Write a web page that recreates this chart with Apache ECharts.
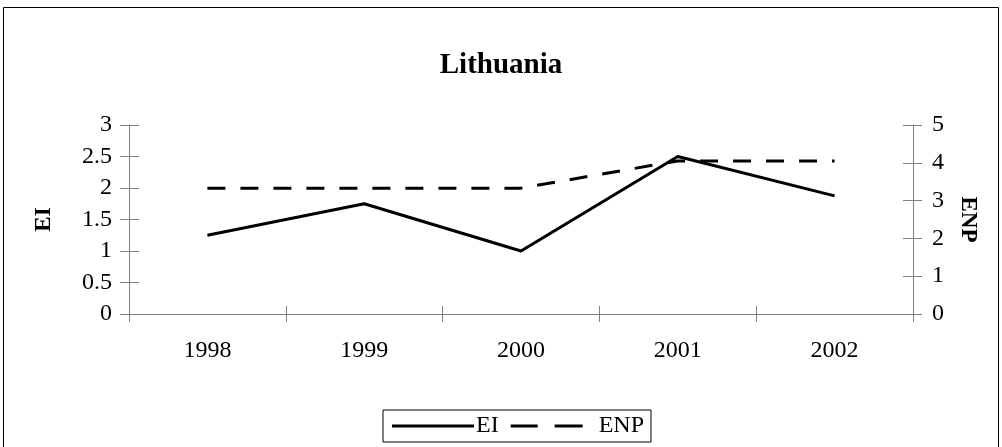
<!DOCTYPE html>
<html>
<head>
<meta charset="utf-8">
<script src="https://cdn.jsdelivr.net/npm/echarts@6/dist/echarts.min.js"></script>
<style>
  html, body { margin: 0; padding: 0; background: #fff; }
  #chart { width: 1002px; height: 447px; }
</style>
</head>
<body>
<div id="chart"></div>
<script>
// data
var years = ['1998', '1999', '2000', '2001', '2002'];
var eiValues = [1.25, 1.75, 1.0, 2.5, 1.875];
var enpValues = [3.33, 3.33, 3.33, 4.05, 4.05];

var chart = echarts.init(document.getElementById('chart'));
var font = 'Liberation Serif';
var axisGray = '#808080';
var labelSize = 24;

// tick marks cross the axis line, so each axis is drawn twice (outside + inside ticks)
function yAxisBase(min, max, step, pos, margin) {
    return {
        type: 'value', position: pos,
        min: min, max: max, interval: step,
        splitLine: { show: false },
        axisLine: { show: true, lineStyle: { color: axisGray } },
        axisTick: { show: true, length: 9, lineStyle: { color: axisGray } },
        axisLabel: { fontFamily: font, fontSize: labelSize, color: '#000', margin: margin }
    };
}
function yAxisInner(min, max, step, pos) {
    return {
        type: 'value', position: pos,
        min: min, max: max, interval: step,
        splitLine: { show: false },
        axisLine: { show: false },
        axisTick: { show: true, inside: true, length: 10, lineStyle: { color: axisGray } },
        axisLabel: { show: false }
    };
}

var ei = yAxisBase(0, 3, 0.5, 'left', 17);
ei.name = 'EI';
ei.nameLocation = 'middle';
ei.nameGap = 73;
ei.nameRotate = 90;
ei.nameTextStyle = { fontFamily: font, fontSize: 23, fontWeight: 'bold', color: '#000' };

var enp = yAxisBase(0, 5, 1, 'right', 19);
enp.name = 'ENP';
enp.nameLocation = 'middle';
enp.nameGap = 43;
enp.nameRotate = -90;
enp.nameTextStyle = { fontFamily: font, fontSize: 23, fontWeight: 'bold', color: '#000' };

var option = {
    animation: false,
    backgroundColor: '#fff',
    textStyle: { fontFamily: font, color: '#000' },
    graphic: [{
        type: 'rect',
        shape: { x: 3.5, y: 7.5, width: 995, height: 445 },
        style: { fill: 'none', stroke: '#000', lineWidth: 1 }
    }],
    title: {
        text: 'Lithuania',
        left: 'center',
        top: 46,
        textStyle: { fontFamily: font, fontSize: 29, fontWeight: 'bold', color: '#000' }
    },
    legend: {
        top: 410,
        left: 383,
        itemWidth: 82,
        itemHeight: 3,
        itemGap: 12,
        padding: [4, 7, 4, 9],
        borderColor: '#000',
        borderWidth: 1,
        textStyle: { fontFamily: font, fontSize: 24, color: '#000', padding: [0, 0, 0, -3] },
        data: [
            { name: 'EI', icon: 'path://M0,0H82V3H0Z' },
            { name: 'ENP', icon: 'path://M0,0H27V3H0Z M44,0H72V3H44Z M82,0L82,3', textStyle: { padding: [0, 0, 0, 1] } }
        ]
    },
    grid: { left: 129, right: 89, top: 125, bottom: 133 },
    xAxis: [{
        type: 'category',
        data: years,
        boundaryGap: true,
        axisLine: { lineStyle: { color: axisGray, width: 1 } },
        axisTick: { show: true, length: 8, lineStyle: { color: axisGray } },
        axisLabel: { fontFamily: font, fontSize: labelSize, color: '#000', margin: 25 }
    }, {
        type: 'category',
        data: years,
        position: 'bottom',
        boundaryGap: true,
        axisLine: { show: false },
        axisTick: { show: true, inside: true, length: 8, lineStyle: { color: axisGray } },
        axisLabel: { show: false }
    }],
    yAxis: [ei, enp, yAxisInner(0, 3, 0.5, 'left'), yAxisInner(0, 5, 1, 'right')],
    series: [{
        name: 'EI',
        type: 'line',
        yAxisIndex: 0,
        data: eiValues,
        symbol: 'none',
        lineStyle: { color: '#000', width: 3 },
        itemStyle: { color: '#000' }
    }, {
        name: 'ENP',
        type: 'line',
        yAxisIndex: 1,
        data: enpValues,
        symbol: 'none',
        lineStyle: { color: '#000', width: 3, type: [18, 15] },
        itemStyle: { color: '#000' }
    }]
};

chart.setOption(option);
</script>
</body>
</html>
